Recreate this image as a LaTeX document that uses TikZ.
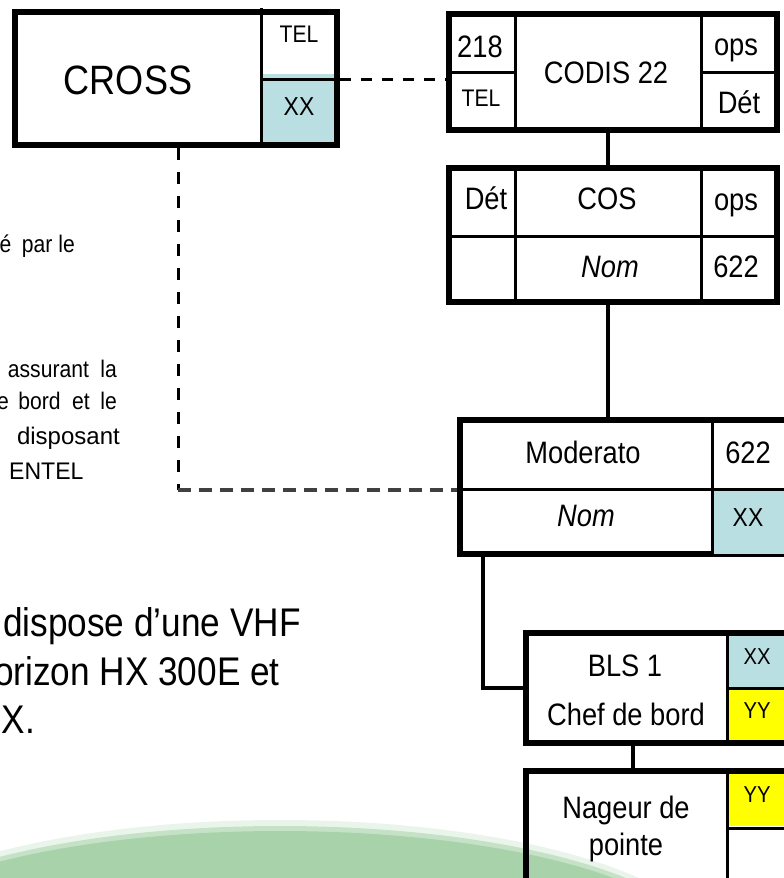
\documentclass[tikz,border=0pt]{standalone}
\usepackage{fontspec}
\setmainfont{Liberation Sans}
\usepackage{graphicx}
\newcommand{\sq}[2][0.88]{\scalebox{#1}[1]{#2}}
\definecolor{lblue}{RGB}{186,223,226}
\definecolor{lyel}{RGB}{255,255,0}
\definecolor{lgreen}{RGB}{168,211,170}
\definecolor{dgray}{RGB}{64,64,64}
\begin{document}
\begin{tikzpicture}[x=1pt,y=-1pt,
  box/.style={draw=black, line width=6pt, inner sep=0pt, outer sep=3pt},
  cell/.style={line width=3pt},
  conn/.style={line width=3.2pt},
  dv/.style={line width=3pt, dash pattern=on 12pt off 12pt},
  dtop/.style={line width=3pt, dash pattern=on 11pt off 10pt},
  dh/.style={line width=3.4pt, draw=dgray, dash pattern=on 13pt off 8pt},
  lbl/.style={inner sep=0pt, anchor=base, font=\fontsize{31}{36}\selectfont},
  sml/.style={inner sep=0pt, font=\fontsize{24}{28}\selectfont},
  big/.style={inner sep=0pt, font=\fontsize{40}{46}\selectfont}]
\useasboundingbox (0,0) rectangle (784,878);
\clip (0,0) rectangle (784,878);

% green background shape
\fill[lgreen, opacity=.25] (280,951) ellipse [x radius=432, y radius=131];
\fill[lgreen, opacity=.55] (280,951) ellipse [x radius=426, y radius=125];
\fill[lgreen] (280,951) ellipse [x radius=420, y radius=120];

% coloured cells (under borders)
\fill[lblue] (263,74) rectangle (337,142);
\fill[lblue] (729,633) rectangle (784,687);
\fill[lyel] (729,689) rectangle (784,742);
\fill[lyel] (729,773) rectangle (784,826);

% boxes
\node[box, minimum width=322pt, minimum height=133pt] (cross) at (176,78) {};
\node[box, minimum width=328pt, minimum height=116pt] (codis) at (613,72) {};
\node[box, minimum width=328pt, minimum height=134pt] (cos) at (613,235) {};
\node[box, minimum width=330pt, minimum height=134pt] (moder) at (625,487) {};
\node[box, minimum width=264pt, minimum height=110pt] (bls) at (658,688) {};
\node[box, minimum width=264pt, minimum height=129pt] (nag) at (658,835.5) {};

% Moderato blue cell over its border
\fill[lblue] (714,491) rectangle (784,554);

% cell dividers
\draw[cell] (261.5,8) -- (261.5,148);
\draw[cell] (261.5,79.5) -- (340,79.5);
\draw[cell] (515.5,11) -- (515.5,133);
\draw[cell] (701,11) -- (701,133);
\draw[cell] (446,72) -- (515.5,72);
\draw[cell] (701,72) -- (780,72);
\draw[cell] (515.5,165) -- (515.5,305);
\draw[cell] (701,165) -- (701,305);
\draw[cell] (446,236) -- (780,236);
\draw[cell] (712.5,417) -- (712.5,557);
\draw[cell] (457,489) -- (784,489);
\draw[cell] (727.5,630) -- (727.5,746);
\draw[cell] (727.5,688) -- (784,688);
\draw[cell] (727.5,768) -- (727.5,878);
\draw[cell] (727.5,828) -- (784,828);

% connectors
\coordinate (cc) at (0,79);
\draw[dtop] (cross.east |- cc) -- (codis.west |- cc);
\coordinate (dk) at (178,490);
\draw[dv] (cross.south -| dk) -- (dk);
\draw[dh] (dk) -- (moder.west |- dk);
\coordinate (cx) at (608,0);
\draw[conn] (codis.south -| cx) -- (cos.north -| cx);
\draw[conn] (cos.south -| cx) -- (moder.north -| cx);
\coordinate (mb) at (483,688);
\draw[conn] (moder.south -| mb) -- (mb) -- (bls.west |- mb);
\coordinate (bn) at (633,0);
\draw[conn] (bls.south -| bn) -- (nag.north -| bn);

% box texts
\node[lbl, font=\fontsize{41}{48}\selectfont] (t1) at (128,94) {\sq{CROSS}};
\node[lbl, font=\fontsize{24}{28}\selectfont] (t2) at (299,42) {\sq{TEL}};
\node[lbl, font=\fontsize{26}{30}\selectfont] (t3) at (299,115) {\sq{XX}};
\node[lbl] (t4) at (480,57) {\sq{218}};
\node[lbl, font=\fontsize{24}{28}\selectfont] (t5) at (481,106) {\sq{TEL}};
\node[lbl] (t6) at (606,83) {\sq{CODIS 22}};
\node[lbl] (t7) at (736,55) {\sq{ops}};
\node[lbl] (t8) at (739,113) {\sq{Dét}};
\node[lbl] (t9) at (486,209) {\sq{Dét}};
\node[lbl] (t10) at (607,209) {\sq{COS}};
\node[lbl] (t11) at (736,210) {\sq{ops}};
\node[lbl] (t12) at (610,277) {\sq{\itshape Nom}};
\node[lbl] (t13) at (736,277) {\sq{622}};
\node[lbl] (t14) at (583,463) {\sq{Moderato}};
\node[lbl] (t15) at (748,463) {\sq{622}};
\node[lbl] (t16) at (586,526) {\sq{\itshape Nom}};
\node[lbl, font=\fontsize{26}{30}\selectfont] (t17) at (748,526) {\sq{XX}};
\node[lbl] (t18) at (625,676) {\sq{BLS 1}};
\node[lbl] (t19) at (626,725) {\sq{Chef de bord}};
\node[lbl, font=\fontsize{23}{27}\selectfont] (t20) at (757,664) {\sq{XX}};
\node[lbl, font=\fontsize{23}{27}\selectfont] (t21) at (757,718) {\sq{YY}};
\node[lbl] (t22) at (626,818) {\sq{Nageur de}};
\node[lbl] (t23) at (626,855) {\sq{pointe}};
\node[lbl, font=\fontsize{23}{27}\selectfont] (t24) at (757,802) {\sq{YY}};

% left texts
\node[sml, anchor=base east] (l1) at (75,252) {\sq{é\hspace{12pt}par le}};
\node[sml, anchor=base east] (l2) at (117,377) {\sq{assurant\hspace{13pt}la}};
\node[sml, anchor=base east] (l3) at (117,409) {\sq{e\hspace{11pt}bord\hspace{13pt}et\hspace{12pt}le}};
\node[sml, anchor=base east] (l4) at (120,444) {\sq[1.0]{disposant}};
\node[sml, anchor=base west] (l5) at (9,479) {\sq[0.96]{ENTEL}};

\node[big, anchor=base west] (b1) at (3,636) {\sq{dispose d'une VHF}};
\node[big, anchor=base east] (b2) at (280,685) {\sq{orizon HX 300E et}};
\node[big, anchor=base east] (b3) at (35,733) {\sq{X.}};
\end{tikzpicture}
\end{document}
